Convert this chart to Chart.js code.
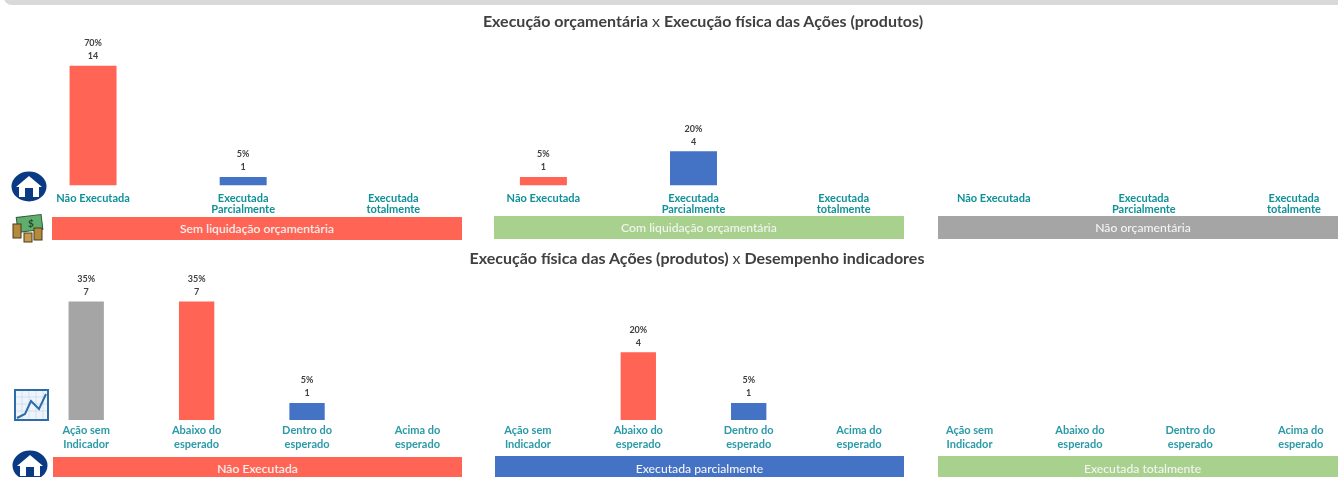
<!DOCTYPE html>
<html lang="pt">
<head>
<meta charset="utf-8">
<title>Execução orçamentária e física</title>
<script src="https://cdn.jsdelivr.net/npm/chart.js@4/dist/chart.umd.min.js"></script>
<style>
  html, body { margin: 0; padding: 0; background: #fff; }
  body { position: relative; width: 1338px; height: 477px; overflow: hidden; font-family: Lato, sans-serif; }
  .top-strip { position: absolute; left: 4px; top: -10px; width: 1400px; height: 15px; background: #d9d9d9; border-radius: 8px; }
  .chart-box { position: absolute; left: 0; }
  .chart-title { position: absolute; left: 0; width: 1338px; margin: 0; color: #404040; font-size: 16px; font-weight: 700; line-height: 20px; text-align: center; white-space: nowrap; z-index: 2; }
  .chart-title span { font-weight: 400; }
  .band { position: absolute; width: 409px; color: #f4f4f4; font-size: 12.2px; font-weight: 500; text-align: center; }
  .icon { position: absolute; }
</style>
</head>
<body>
<div class="top-strip"></div>

<h2 class="chart-title" style="top:11px;padding-left:68px;box-sizing:border-box">Execução orçamentária <span>x</span> Execução física das Ações (produtos)</h2>
<h2 class="chart-title" style="top:248px;padding-left:56px;box-sizing:border-box">Execução física das Ações (produtos) <span>x</span> Desempenho indicadores</h2>

<div class="chart-box" style="top:0;width:1406px;height:245px"><canvas id="budgetChart"></canvas></div>
<div class="chart-box" style="top:245px;width:1394px;height:232px"><canvas id="indicatorChart"></canvas></div>

<div class="band" style="left:52px;top:217px;width:410px;height:23px;line-height:24px;background:#ff6455">Sem liquidação orçamentária</div>
<div class="band" style="left:494px;top:216px;width:410px;height:23px;line-height:24px;background:#a9d18e">Com liquidação orçamentária</div>
<div class="band" style="left:938px;top:216px;width:410px;height:23px;line-height:24px;background:#a5a5a5">Não orçamentária</div>

<div class="band" style="left:53px;top:457px;height:24px;line-height:24px;background:#ff6455">Não Executada</div>
<div class="band" style="left:495px;top:456px;height:24px;line-height:25px;background:#4472c4">Executada parcialmente</div>
<div class="band" style="left:938px;top:456px;height:24px;line-height:25px;background:#a9d18e">Executada totalmente</div>

<svg class="icon" style="left:11px;top:171px" width="36" height="31" viewBox="0 0 36 31">
  <ellipse cx="18" cy="15.5" rx="17.5" ry="15" fill="#0b3a84"/>
  <path d="M5 16 L18 5 L31 16 L28 16 L28 26 L8 26 L8 16 Z" fill="#fff"/>
  <rect x="14" y="17" width="8" height="9" fill="#0b3a84"/>
</svg>
<svg class="icon" style="left:12px;top:213px" width="33" height="30" viewBox="0 0 33 30">
  <rect x="5" y="3" width="25" height="15" fill="#5fae6e" stroke="#2f5d3c" transform="rotate(-7 17 10)"/>
  <text x="16" y="14" font-size="10" font-weight="700" fill="#23452d" font-family="Lato">$</text>
  <rect x="1" y="11" width="8" height="14" fill="#b68a3c" stroke="#4b3a1c"/>
  <rect x="22" y="15" width="8" height="12" fill="#b68a3c" stroke="#4b3a1c"/>
  <rect x="12" y="20" width="8" height="9" fill="#c69b4d" stroke="#4b3a1c"/>
</svg>
<svg class="icon" style="left:14px;top:389px" width="35" height="32" viewBox="0 0 35 32">
  <rect x="1" y="1" width="33" height="30" fill="#eef4fa" stroke="#2e6ca8" stroke-width="2"/>
  <path d="M8 2V30M15 2V30M22 2V30M29 2V30M2 8H33M2 15H33M2 22H33" stroke="#c5d8ea" stroke-width=".7"/>
  <path d="M3 29 L11 25 L17 12 L25 20 L32 5" fill="none" stroke="#2e6ca8" stroke-width="2"/>
</svg>
<svg class="icon" style="left:12px;top:450px" width="36" height="31" viewBox="0 0 36 31">
  <ellipse cx="18" cy="15.5" rx="17.5" ry="15" fill="#0b3a84"/>
  <path d="M5 16 L18 5 L31 16 L28 16 L28 26 L8 26 L8 16 Z" fill="#fff"/>
  <rect x="14" y="17" width="8" height="9" fill="#0b3a84"/>
</svg>

<script>
const budgetLabels = [
  "Não Executada", ["Executada", "Parcialmente"], ["Executada", "totalmente"],
  "Não Executada", ["Executada", "Parcialmente"], ["Executada", "totalmente"],
  "Não Executada", ["Executada", "Parcialmente"], ["Executada", "totalmente"]
];
const budgetCounts = [14, 1, null, 1, 4, null, null, null, null];
const budgetPercents = [70, 5, null, 5, 20, null, null, null, null];

const indicatorLabels = [
  ["Ação sem", "Indicador"], ["Abaixo do", "esperado"], ["Dentro do", "esperado"], ["Acima do", "esperado"],
  ["Ação sem", "Indicador"], ["Abaixo do", "esperado"], ["Dentro do", "esperado"], ["Acima do", "esperado"],
  ["Ação sem", "Indicador"], ["Abaixo do", "esperado"], ["Dentro do", "esperado"], ["Acima do", "esperado"]
];
const indicatorCounts = [7, 7, 1, null, null, 4, 1, null, null, null, null, null];
const indicatorPercents = [35, 35, 5, null, null, 20, 5, null, null, null, null, null];

const RED = "#ff6455";
const BLUE = "#4472c4";
const GRAY = "#a5a5a5";
const GREEN = "#a9d18e";

// prints "70%" over "14" above each bar
const barLabels = {
  id: "barLabels",
  afterDatasetsDraw(chart, args, opts) {
    const ctx = chart.ctx;
    const bars = chart.getDatasetMeta(0).data;
    ctx.save();
    ctx.font = "700 9px Lato";
    ctx.fillStyle = "#404040";
    ctx.textAlign = "center";
    ctx.textBaseline = "middle";
    bars.forEach(function (bar, i) {
      if (opts.counts[i] === null) return;
      ctx.fillText(opts.percents[i] + "%", bar.x, bar.y - 22.5);
      ctx.fillText(String(opts.counts[i]), bar.x, bar.y - 9.5);
    });
    ctx.restore();
  }
};

function makeChart(id, cfg) {
  return new Chart(document.getElementById(id), {
    type: "bar",
    plugins: [barLabels],
    data: {
      labels: cfg.labels,
      datasets: [{
        data: cfg.counts,
        backgroundColor: (c) => cfg.colors[c.dataIndex % cfg.colors.length],
        barPercentage: cfg.barPercentage,
        categoryPercentage: 1
      }]
    },
    options: {
      responsive: true,
      maintainAspectRatio: false,
      animation: false,
      layout: { padding: cfg.padding },
      plugins: {
        legend: { display: false },
        tooltip: { enabled: false },
        barLabels: { counts: cfg.counts, percents: cfg.percents }
      },
      scales: {
        x: {
          grid: { display: false, drawTicks: false },
          border: { display: false },
          afterFit(scale) { scale.height = cfg.axisHeight; },
          ticks: {
            autoSkip: false,
            maxRotation: 0,
            padding: cfg.tickPadding,
            color: cfg.tickColor,
            font: { family: "Lato", size: 11, weight: "700", lineHeight: cfg.tickLine }
          }
        },
        y: { display: false, min: 0, max: cfg.yMax }
      }
    }
  });
}

makeChart("budgetChart", {
  labels: budgetLabels,
  counts: budgetCounts,
  percents: budgetPercents,
  colors: [RED, BLUE, GREEN],
  barPercentage: 0.313,
  padding: { left: 18, right: 37, top: 36.6, bottom: 0 },
  axisHeight: 59.5,
  tickPadding: 7,
  tickColor: "#0f9198",
  tickLine: 1,
  yMax: 17.4
});

makeChart("indicatorChart", {
  labels: indicatorLabels,
  counts: indicatorCounts,
  percents: indicatorPercents,
  colors: [GRAY, RED, BLUE, GREEN],
  barPercentage: 0.32,
  padding: { left: 31, right: 38, top: 26.6, bottom: 0 },
  axisHeight: 57,
  tickPadding: 3,
  tickColor: "#2b9aa8",
  tickLine: 1.27,
  yMax: 8.77
});
</script>
</body>
</html>
